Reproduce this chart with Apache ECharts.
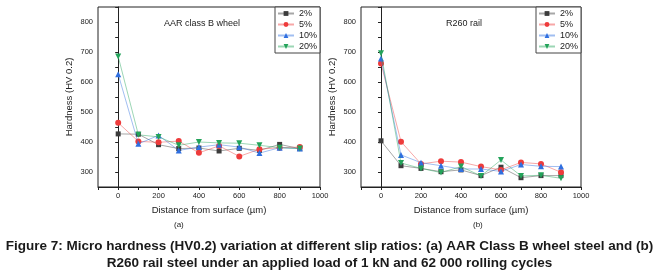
<!DOCTYPE html>
<html>
<head>
<meta charset="utf-8">
<script src="https://cdn.jsdelivr.net/npm/echarts@6/dist/echarts.min.js"></script>
<style>
  html, body { margin: 0; padding: 0; background: #fff; }
  #chart { width: 659px; height: 276px; }
</style>
</head>
<body>
<div id="chart"></div>
<script>
// distance from surface (µm)
const distance = [0, 100, 200, 300, 400, 500, 600, 700, 800, 900]
const slipNames = ['2%', '5%', '10%', '20%']

// (a) AAR class B wheel
const wheel2 = [427, 426, 391, 378, 380, 370, 379, 372, 392, 378]
const wheel5 = [464, 402, 399, 403, 364, 387, 352, 376, 381, 383]
const wheel10 = [626, 394, 422, 372, 383, 391, 383, 363, 381, 378]
const wheel20 = [685, 424, 417, 389, 400, 397, 396, 389, 381, 378]

// (b) R260 rail
const rail2 = [404, 321, 312, 301, 307, 288, 316, 281, 288, 288]
const rail5 = [662, 401, 327, 336, 333, 318, 307, 332, 327, 299]
const rail10 = [678, 357, 331, 321, 310, 310, 302, 325, 319, 318]
const rail20 = [696, 330, 312, 298, 318, 287, 340, 287, 289, 279]

const xLabels = [0, 200, 400, 600, 800, 1000]
const yLabels = [300, 400, 500, 600, 700, 800]

const colors = ['#3c3c3c', '#ee3b3b', '#2f6fe0', '#23a35a']
const lineColors = ['rgba(60,60,60,0.45)', 'rgba(238,59,59,0.45)', 'rgba(47,111,224,0.45)', 'rgba(35,163,90,0.45)']
const symbols = ['rect', 'circle', 'triangle', 'path://M0,0 L10,0 L5,9 Z']

const chart = echarts.init(document.getElementById('chart'))
const font = 'Liberation Sans, Arial, sans-serif'

function makeSeries(values, idx, axis) {
  return {
    name: slipNames[idx],
    type: 'line',
    xAxisIndex: axis,
    yAxisIndex: axis,
    data: distance.map((d, i) => [d, values[i]]),
    symbol: symbols[idx],
    symbolSize: idx === 0 ? 5 : 6,
    itemStyle: { color: colors[idx] },
    lineStyle: { color: lineColors[idx], width: 1 },
    z: 2 + idx,
    animation: false
  }
}

function xAxis(grid) {
  return {
    type: 'value',
    gridIndex: grid,
    min: -100,
    max: 1000,
    interval: 100,
    name: 'Distance from surface (µm)',
    nameLocation: 'middle',
    nameGap: 18,
    nameTextStyle: { fontSize: 9.5, color: '#222', fontFamily: font },
    axisLine: { onZero: false, lineStyle: { color: '#222' } },
    axisTick: { length: 3, lineStyle: { color: '#222' } },
    axisLabel: {
      fontSize: 7.5, color: '#222', margin: 5, fontFamily: font,
      customValues: xLabels, formatter: v => String(v)
    },
    splitLine: { show: false }
  }
}

function yAxis(grid) {
  return {
    type: 'value',
    gridIndex: grid,
    min: 250,
    max: 850,
    interval: 50,
    name: 'Hardness (HV 0.2)',
    nameLocation: 'middle',
    nameGap: 24,
    nameTextStyle: { fontSize: 9.5, color: '#222', fontFamily: font },
    axisLine: { lineStyle: { color: '#222' } },
    axisTick: { length: 3, lineStyle: { color: '#222' } },
    axisLabel: {
      fontSize: 7.5, color: '#222', margin: 5, fontFamily: font,
      customValues: yLabels, formatter: v => String(v)
    },
    splitLine: { show: false }
  }
}

function legend(left) {
  return {
    data: slipNames,
    orient: 'vertical',
    left: left,
    top: 7,
    padding: [2, 3, 2, 2],
    itemGap: 2,
    itemWidth: 16,
    itemHeight: 6,
    borderColor: '#444',
    borderWidth: 1,
    backgroundColor: '#fff',
    textStyle: { fontSize: 9, color: '#222', fontFamily: font }
  }
}

const capStyle = { fontSize: 13.5, fontWeight: 'bold', fill: '#1a1a1a', fontFamily: font }

chart.setOption({
  backgroundColor: '#fff',
  animation: false,
  grid: [
    { left: 98, top: 7, width: 222, height: 180, show: true, borderColor: '#222', borderWidth: 1 },
    { left: 361, top: 7, width: 220, height: 180, show: true, borderColor: '#222', borderWidth: 1 }
  ],
  xAxis: [xAxis(0), xAxis(1)],
  yAxis: [yAxis(0), yAxis(1)],
  legend: [legend(275), legend(536)],
  series: [
    makeSeries(wheel2, 0, 0),
    makeSeries(wheel5, 1, 0),
    makeSeries(wheel10, 2, 0),
    makeSeries(wheel20, 3, 0),
    makeSeries(rail2, 0, 1),
    makeSeries(rail5, 1, 1),
    makeSeries(rail10, 2, 1),
    makeSeries(rail20, 3, 1)
  ],
  graphic: [
    { type: 'text', left: 164, top: 19, style: { text: 'AAR class B wheel', fontSize: 9, fill: '#222', fontFamily: font } },
    { type: 'text', left: 446, top: 19, style: { text: 'R260 rail', fontSize: 9, fill: '#222', fontFamily: font } },
    { type: 'text', left: 174, top: 221, style: { text: '(a)', fontSize: 8, fill: '#222', fontFamily: font } },
    { type: 'text', left: 473, top: 221, style: { text: '(b)', fontSize: 8, fill: '#222', fontFamily: font } },
    {
      type: 'text', left: 'center', top: 239,
      style: Object.assign({ text: 'Figure 7: Micro hardness (HV0.2) variation at different slip ratios: (a) AAR Class B wheel steel and (b)' }, capStyle)
    },
    {
      type: 'text', left: 'center', top: 256,
      style: Object.assign({ text: 'R260 rail steel under an applied load of 1 kN and 62 000 rolling cycles' }, capStyle)
    }
  ]
})
</script>
</body>
</html>
